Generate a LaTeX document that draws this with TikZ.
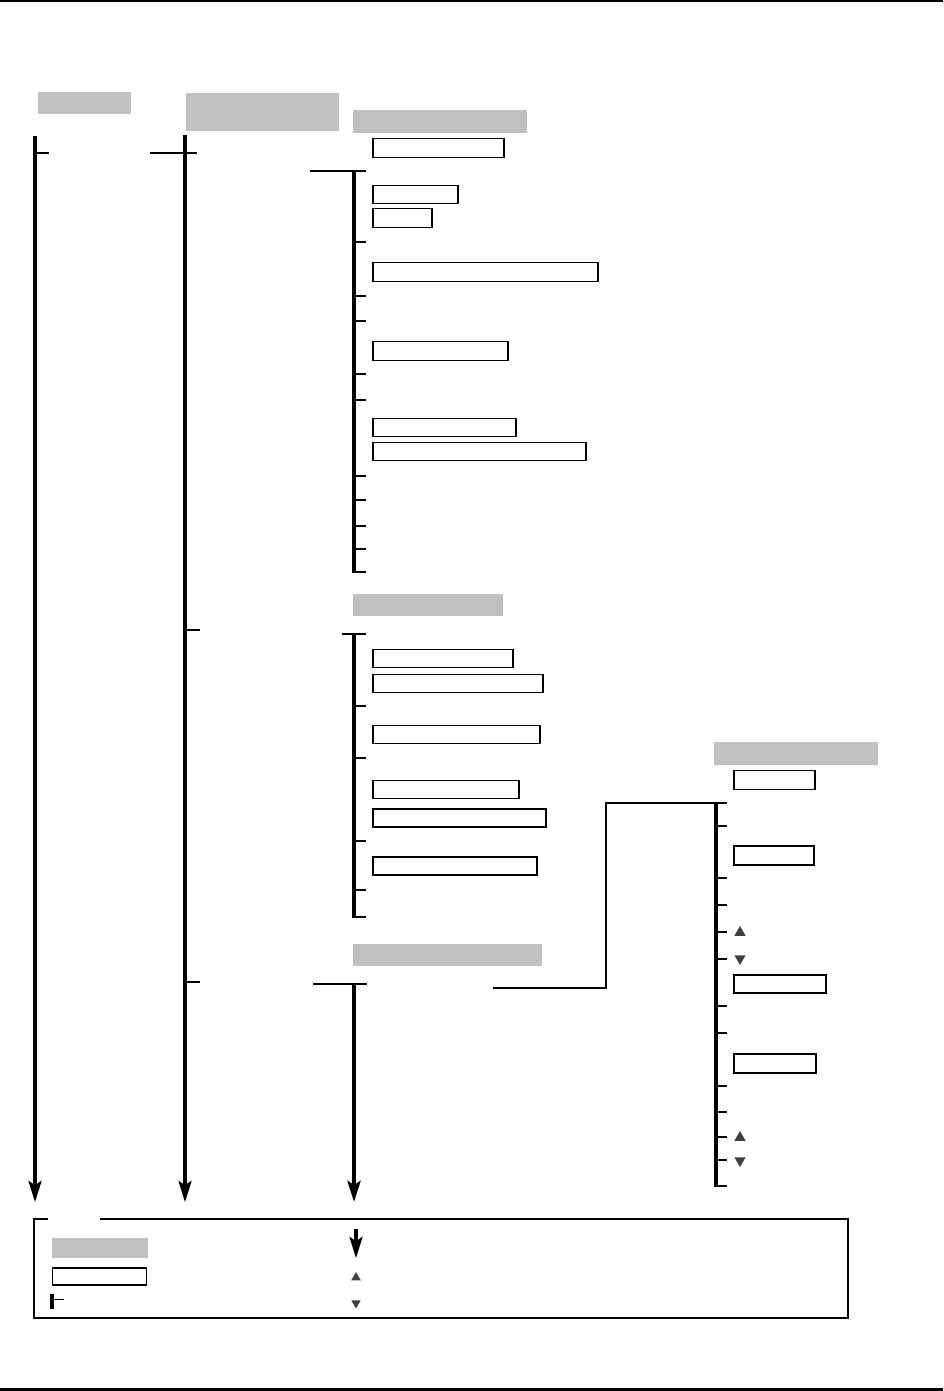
\documentclass[tikz,border=0pt]{standalone}
\usepackage{tikz}
\usetikzlibrary{arrows.meta, shapes.geometric, positioning}
\definecolor{hdrgray}{RGB}{192,192,192}
\definecolor{trigray}{RGB}{64,64,64}

\begin{document}
\begin{tikzpicture}[x=0.02cm, y=-0.02cm,
  hdr/.style={fill=hdrgray, inner sep=0pt, anchor=north west},
  box/.style={draw, line width=0.85pt, inner sep=0pt, anchor=north west},
  rail/.style={line width=1.9pt},
  bar/.style={line width=2.4pt},
  flow/.style={line width=1.9pt, -{Stealth[length=0.42cm, width=0.26cm, inset=0.08cm]}},
  tickln/.style={line width=0.85pt},
  triup/.style={regular polygon, regular polygon sides=3, fill=trigray, inner sep=0pt, minimum size=0.26cm},
  tridown/.style={triup, shape border rotate=180}]
 \useasboundingbox (0,0) rectangle (943,1391);
 \draw[line width=1.2pt] (0,1) -- (943,1);
 \draw[line width=1.2pt] (0,1389.5) -- (943,1389.5);
 % header bars
 \node[hdr, minimum width=93*0.02cm, minimum height=22*0.02cm] (colA) at (38,92){};
 \node[hdr, minimum width=153*0.02cm, minimum height=38*0.02cm] (colB) at (186,93){};
 \node[hdr, minimum width=174*0.02cm, minimum height=23*0.02cm] (grpA) at (353,110){};
 \node[hdr, minimum width=150*0.02cm, minimum height=22*0.02cm] (grpB) at (353,594){};
 \node[hdr, minimum width=189*0.02cm, minimum height=22*0.02cm] (grpC) at (353,944){};
 \node[hdr, minimum width=164*0.02cm, minimum height=23*0.02cm] (grpD) at (714,742){};
 % outlined boxes
 \foreach \n/\x/\y/\w/\h in {b1/372/138/131/19, b2/372/185/85/18, b3/372/208/59/19,
   b4/372/262/225/19, b5/372/341/135/19, b6/372/418/143/18, b7/372/442/213/18,
   b8/372/649/140/18, b9/372/674/170/18, b10/372/725/167/18, b11/372/780/146/18,
   b12/372/808/173/18, b13/372/856/164/18, b14/733/770/81/19, b15/733/845/80/19,
   b16/733/974/92/18, b17/733/1053/82/19}{
   \node[box, minimum width=\w*0.02cm, minimum height=\h*0.02cm] (\n) at (\x,\y){};
 }
 % columns
 \coordinate (aTop) at (35,136);   \coordinate (aEnd) at (35,1202);
 \coordinate (bTop) at (185,135);  \coordinate (bEnd) at (185,1202);
 \coordinate (r1Top) at (354,171); \coordinate (r1End) at (354,573);
 \coordinate (r2Top) at (354,634); \coordinate (r2End) at (354,918);
 \coordinate (cTop) at (354,984);  \coordinate (cEnd) at (354,1202);
 \coordinate (dTop) at (716,803);  \coordinate (dEnd) at (716,1187);
 \draw[flow] (aTop) -- (aEnd);
 \draw[flow] (bTop) -- (bEnd);
 \draw[bar] (r1Top) -- (r1End);
 \draw[bar] (r2Top) -- (r2End);
 \draw[flow, line width=2.4pt] (cTop) -- (cEnd);
 \draw[rail] (dTop) -- (dEnd);
 % ticks
 \draw[tickln] (35,153) -- ++(14,0);
 \foreach \y in {630,982}{ \draw[tickln] (185,\y) -- ++(15,0); }
 \foreach \y in {171,242,296,321,374,400,476,500,526,549,572}{ \draw[tickln] (354,\y) -- ++(12,0); }
 \foreach \y in {634,706,758,841,890,917}{ \draw[tickln] (354,\y) -- ++(12,0); }
 \foreach \y in {803,826,878,905,932,959,1006,1033,1086,1112,1137,1160,1186}{ \draw[tickln] (716,\y) -- ++(11,0); }
 % links
 \coordinate (lnkA) at (150,153);
 \coordinate (lnkB) at (310,171);
 \coordinate (lnkC) at (342,634);
 \coordinate (lnkD) at (313,984);
 \coordinate (lnkE) at (493,988);
 \draw[tickln] (lnkA) -- (197,153);
 \draw[tickln] (lnkB) -- (r1Top);
 \draw[tickln] (lnkC) -- (r2Top);
 \draw[tickln] (lnkD) -- (367,984);
 \draw[tickln] (lnkE) -| (606,803) -- (dTop);
 % up/down marks
 \node[triup] (u1) at (740,932.5){};
 \node[tridown] (d1) at (740,958.5){};
 \node[triup] (u2) at (740,1137.5){};
 \node[tridown] (d2) at (740,1160.5){};
 % legend
 \draw[tickln] (48,1219) -- (34,1219) -- (34,1318) -- (848,1318) -- (848,1219) -- (100,1219);
 \node[hdr, minimum width=96*0.02cm, minimum height=20*0.02cm] (lgHdr) at (52,1238){};
 \node[box, minimum width=94*0.02cm, minimum height=17*0.02cm] (lgBox) at (52,1267){};
 \draw[rail] (52,1294) -- (52,1309);
 \draw[tickln] (52,1299.5) -- (64,1299.5);
 \coordinate (lgTop) at (356,1229); \coordinate (lgEnd) at (356,1258);
 \draw[flow] (lgTop) -- (lgEnd);
 \node[triup, minimum size=0.22cm] (lgUp) at (356,1277.5){};
 \node[tridown, minimum size=0.22cm] (lgDown) at (356,1303){};
\end{tikzpicture}
\end{document}
